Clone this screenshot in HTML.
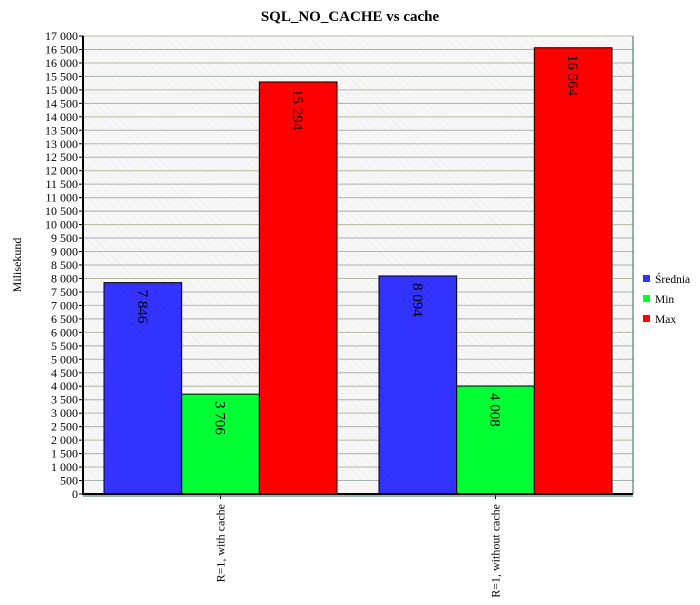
<!DOCTYPE html>
<html><head><meta charset="utf-8"><style>
body{margin:0;background:#fff;}
svg text{font-family:"Liberation Serif",serif;}
</style></head><body>
<svg id="c" width="700" height="600" xmlns="http://www.w3.org/2000/svg">
<defs>
<pattern id="hatch" width="6" height="6" patternUnits="userSpaceOnUse" patternTransform="rotate(-45)">
<rect width="6" height="6" fill="#f7f7f7"/><line x1="0" y1="0" x2="0" y2="6" stroke="#e8e8e8" stroke-width="1"/>
</pattern>
<pattern id="dots" width="8" height="8" patternUnits="userSpaceOnUse"><circle cx="4" cy="4" r="0.6" fill="#000" opacity="0.3"/></pattern>
</defs>
<text x="350" y="21" text-anchor="middle" font-size="15" font-weight="bold">SQL_NO_CACHE vs cache</text>
<rect x="83" y="36" width="550" height="458" fill="url(#hatch)" stroke="#999"/>
<g id="grid"></g><g id="bars"></g><g id="axes"></g>
<text transform="translate(21,265) rotate(-90)" text-anchor="middle" font-size="12">Milisekund</text>
<g id="legend"></g>
</svg>
<script>
const categories=["R=1, with cache","R=1, without cache"];
const seriesNames=["Średnia","Min","Max"];
const seriesColors=["#3333ff","#00ff33","#ff0000"];
const sredniaValues=[7846,8094];
const minValues=[3706,4008];
const maxValues=[15294,16564];
const yMax=17000, yStep=500;
const L=83,R=633,T=36,B=494;
const ns="http://www.w3.org/2000/svg";
function y(v){return B-(v/yMax)*(B-T);}
function mk(tag,attrs,parent){const e=document.createElementNS(ns,tag);for(const k in attrs)e.setAttribute(k,attrs[k]);parent.appendChild(e);return e;}
function fmt(v){return v>=1000?Math.floor(v/1000)+" "+String(v%1000).padStart(3,"0"):String(v);}
const grid=document.getElementById("grid"),bars=document.getElementById("bars"),axes=document.getElementById("axes"),legend=document.getElementById("legend");
for(let v=0;v<=yMax;v+=yStep){
 const gl=mk("line",{x1:L,x2:R,y1:y(v),y2:y(v),stroke:(v%1000===0?"#b8b8a0":"#a8b0b0"),"stroke-width":1},grid);
 
 
 const tk=mk("line",{x1:L-4,x2:L,y1:y(v),y2:y(v),stroke:"#000"},axes);
 
 
 const t=mk("text",{x:L-5,y:y(v)+4,"text-anchor":"end","font-size":"12","font-family":"Liberation Sans, sans-serif"},axes);
 t.textContent=fmt(v);
 
 
}
const series=[sredniaValues,minValues,maxValues];
const catW=(R-L)/categories.length,pad=21,bw=(catW-2*pad)/3;
categories.forEach((c,i)=>{
 const x0=L+i*catW+pad;
 series.forEach((s,j)=>{
  const x=x0+j*bw,v=s[i];
  const r=mk("rect",{x:x,y:y(v),width:bw,height:B-y(v),fill:seriesColors[j],stroke:"#000","stroke-width":1},bars);
  
  
  if(j===0){const d=mk("rect",{x:x,y:y(v),width:bw,height:B-y(v),fill:"url(#dots)"},bars);}
  const t=mk("text",{transform:`translate(${x+bw/2-5},${y(v)+7}) rotate(90)`,"font-size":"15"},bars);
  t.textContent=fmt(v);
  
  
 });
 const cx=L+i*catW+catW/2;
 const tk=mk("line",{x1:cx,x2:cx,y1:B,y2:B+5,stroke:"#000"},axes);
 
 
 const t=mk("text",{transform:`translate(${cx+4},${B+10}) rotate(-90)`,"text-anchor":"end","font-size":"12"},axes);
 t.textContent=c;
 
 
});
const ax=mk("line",{x1:L,x2:L,y1:T,y2:B+1,stroke:"#000","stroke-width":2},axes);


const bx=mk("line",{x1:L,x2:R,y1:B,y2:B,stroke:"#000","stroke-width":2},axes);


const bx2=mk("line",{x1:L,x2:R,y1:B+2,y2:B+2,stroke:"#2a6a5a","stroke-width":1},axes);


const rx=mk("line",{x1:R,x2:R,y1:T,y2:B,stroke:"#2a6a5a","stroke-width":1},axes);


seriesNames.forEach((n,j)=>{
 const g=mk("g",{},legend);
 
 
 mk("rect",{x:643,y:275+j*20,width:7,height:7,fill:seriesColors[j]},g);
 const t=mk("text",{x:655,y:283+j*20,"font-size":"11.5"},g);
 t.textContent=n;
});
</script>
</body></html>
